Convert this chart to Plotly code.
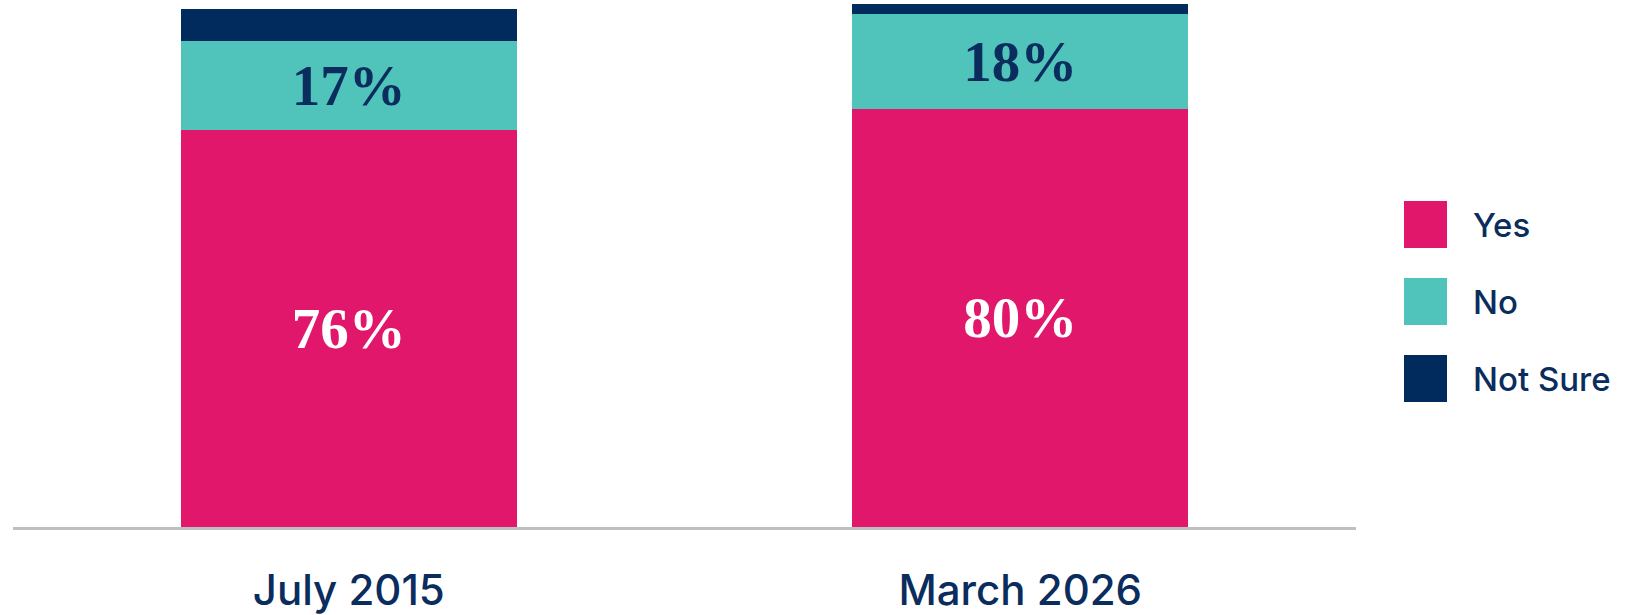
import plotly.graph_objects as go

categories = ["July 2015", "March 2026"]
series_names = ["Yes", "No", "Not Sure"]
yes_vals = [76, 80]
no_vals = [17, 18]
notsure_vals = [6, 2]

colors = {"Yes": "#E0176A", "No": "#50C3BA", "Not Sure": "#002B5C"}
text_colors = {"Yes": "#FFFFFF", "No": "#0A2D5E", "Not Sure": "#FFFFFF"}
navy_text = "#0A2D5E"

W, H = 1644, 615
ML, MR, MT, MB = 13, 288, 4, 88

fig = go.Figure()
for name, vals in zip(series_names, [yes_vals, no_vals, notsure_vals]):
    show_text = name != "Not Sure"
    fig.add_trace(go.Bar(
        x=categories, y=vals, name=name,
        marker=dict(color=colors[name], line=dict(width=0)),
        text=[f"{v}%" for v in vals] if show_text else None,
        textposition="inside" if show_text else "none",
        insidetextanchor="middle",
        constraintext="none",
        textfont=dict(family="Liberation Serif", size=57, color=text_colors[name], weight="bold"),
        showlegend=False,
    ))

# custom legend (large swatches) in paper coordinates
plot_w = W - ML - MR
plot_h = H - MT - MB
def px_to_paper_x(px):
    return (px - ML) / plot_w
def px_to_paper_y(py):
    return (H - MB - py) / plot_h

sw_x0, sw_x1 = 1404, 1447
sw_h = 47
first_center = 224.5
step = 77
shapes = []
annotations = []
for i, name in enumerate(series_names):
    cy = first_center + i * step
    shapes.append(dict(
        type="rect", xref="paper", yref="paper",
        x0=px_to_paper_x(sw_x0), x1=px_to_paper_x(sw_x1),
        y0=px_to_paper_y(cy + sw_h / 2), y1=px_to_paper_y(cy - sw_h / 2),
        fillcolor=colors[name], line=dict(width=0),
    ))
    annotations.append(dict(
        xref="paper", yref="paper", x=px_to_paper_x(1471), y=px_to_paper_y(cy),
        xanchor="left", yanchor="middle", text=name, showarrow=False,
        font=dict(family="Inter", size=33, color=navy_text, weight=500),
    ))

fig.update_layout(
    width=W, height=H,
    margin=dict(l=ML, r=MR, t=MT, b=MB, pad=0, autoexpand=False),
    barmode="stack", bargap=0.5,
    plot_bgcolor="white", paper_bgcolor="white",
    showlegend=False,
    shapes=shapes, annotations=annotations,
    xaxis=dict(
        showline=True, linecolor="#BFBFBF", linewidth=2.5,
        showgrid=False, zeroline=False, ticks="",
        tickfont=dict(family="Inter", size=42, color=navy_text, weight=500),
        ticklabelstandoff=25,
        automargin=False,
        range=[-0.5, 1.5],
    ),
    yaxis=dict(visible=False, range=[0, 100], showgrid=False, zeroline=False, automargin=False),
)

fig.write_html("out.html", config={"displayModeBar": False},
               post_script="document.body.style.margin='0';")
